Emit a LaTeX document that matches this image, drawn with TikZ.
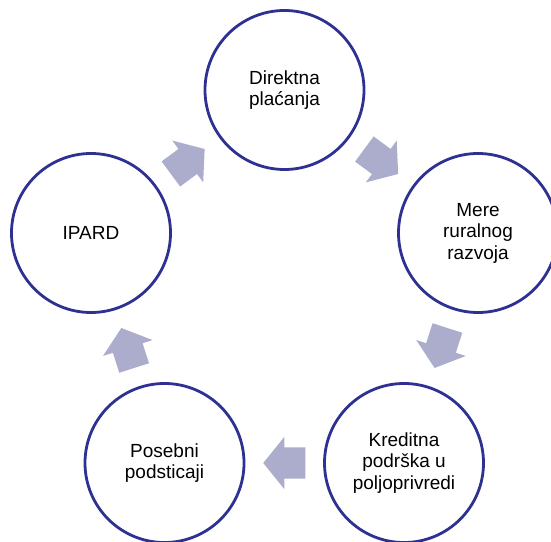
\documentclass[tikz,border=0pt]{standalone}
\usepackage{fontspec}
\setmainfont{Liberation Sans}
\usetikzlibrary{calc}
\definecolor{ringblue}{RGB}{46,49,146}
\definecolor{arrowlav}{RGB}{172,172,204}
\tikzset{
  stage/.style={circle, draw=ringblue, line width=2.8pt, fill=white,
    minimum size=159pt, inner sep=0pt, align=center,
    font=\fontsize{19}{21.5}\selectfont},
  blockarrow/.style={fill=arrowlav, draw=none}
}
\newcommand\cyclearrow[2]{%
  \path[blockarrow] let \p1=(#1.center), \p2=(#2.center),
    \n1={atan2(\y2-\y1,\x2-\x1)} in
    [shift={($(\p1)!0.5!(\p2)$)}, rotate=\n1]
    (-21,-15.6) -- (0,-15.6) -- (0,-26) -- (21,0) -- (0,26) -- (0,15.6) -- (-21,15.6) -- cycle;}
\begin{document}
\begin{tikzpicture}[x=1pt,y=1pt]
\useasboundingbox (0,0) rectangle (551,541);
\clip (0,0) rectangle (551,541);
\node[stage] (c1) at (284.5,451) {Direktna\\plaćanja};
\node[stage] (c2) at (478,308) {Mere\\ruralnog\\razvoja};
\node[stage] (c3) at (404,78) {Kreditna\\podrška u\\poljoprivredi};
\node[stage] (c4) at (164.5,78) {Posebni\\podsticaji};
\node[stage] (c5) at (91,308) {IPARD};
\cyclearrow{c5}{c1}
\cyclearrow{c1}{c2}
\cyclearrow{c2}{c3}
\cyclearrow{c3}{c4}
\cyclearrow{c4}{c5}
\end{tikzpicture}
\end{document}
